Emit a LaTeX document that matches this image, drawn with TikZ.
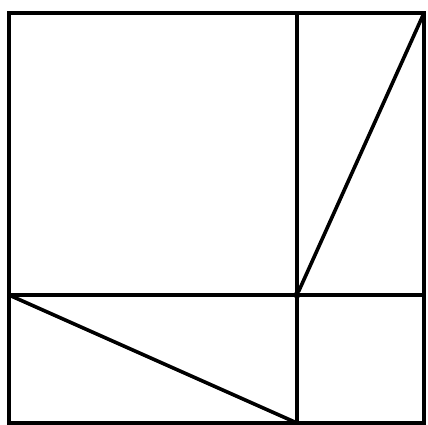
\documentclass[tikz,border=0pt]{standalone}
\usepackage{tikz}
\tikzstyle{Frame}=[black,line width=3.8pt,line cap=rect,line join=miter]
\tikzstyle{Chord}=[black,line width=3.6pt,line cap=round]
\tikzstyle{Joint}=[circle,fill=black,inner sep=0pt,minimum size=7pt]

\begin{document}
\begin{tikzpicture}[x=1pt,y=-1pt]
        \useasboundingbox(0,0)rectangle(428,425);
        \coordinate(tl)at(9,13);
        \coordinate(tr)at(424,13);
        \coordinate(bl)at(9,423);
        \coordinate(br)at(424,423);
        \coordinate(t)at(297,13);
        \coordinate(b)at(297,423);
        \coordinate(l)at(9,295);
        \coordinate(r)at(424,295);
        \node[Joint](c)at(297,295){};
        \draw[Frame](tl)--(tr)--(br)--(bl)--cycle;
        \draw[Frame](t)--(b);
        \draw[Frame](l)--(r);
        \draw[Chord](c)--(tr);
        \draw[Chord](l)--(b);
    \end{tikzpicture}
\end{document}
